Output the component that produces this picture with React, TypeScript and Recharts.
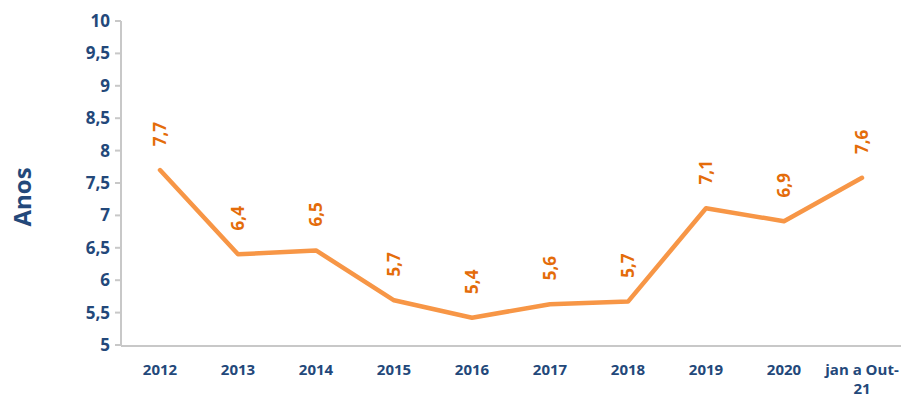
import React from "react";
import { LineChart, Line, XAxis, YAxis, LabelList } from "recharts";

const years = ["2012", "2013", "2014", "2015", "2016", "2017", "2018", "2019", "2020", "jan a Out-21"];
const anos = [7.7, 6.4, 6.46, 5.69, 5.42, 5.63, 5.67, 7.11, 6.91, 7.58];
const yTicks = [5, 5.5, 6, 6.5, 7, 7.5, 8, 8.5, 9, 9.5, 10];
const edgeTicks = [0, 1, 2, 3, 4, 5, 6, 7, 8, 9, 10];

const data = years.map((year, i) => ({ year, anos: anos[i] }));

const NAVY = "#23487A";
const ORANGE_TEXT = "#E46C0A";
const LINE = "#F79646";
const AXIS = "#C8C8C8";
const FONT = "'Open Sans', sans-serif";

const comma = (v: number) => String(v).replace(".", ",");

const XTick = (props: any) => {
  const { x, y, payload } = props;
  const m = String(payload.value).match(/^(.*-)(\d+)$/);
  const lines = m ? [m[1], m[2]] : [payload.value];
  return (
    <text x={x} y={y + 22} textAnchor="middle" fill={NAVY} fontFamily={FONT} fontWeight="bold" fontSize={15}>
      {lines.map((l: string, i: number) => (
        <tspan key={i} x={x} dy={i === 0 ? 0 : 19}>
          {l}
        </tspan>
      ))}
    </text>
  );
};

const PointLabel = (props: any) => {
  const { x, y, value } = props;
  const cy = y - 36;
  return (
    <text
      x={x}
      y={cy}
      transform={`rotate(-90, ${x}, ${cy})`}
      textAnchor="middle"
      dominantBaseline="central"
      fill={ORANGE_TEXT}
      fontFamily={FONT}
      fontWeight="bold"
      fontSize={17}
    >
      {Number(value).toFixed(1).replace(".", ",")}
    </text>
  );
};

const AxisTitle = (props: any) => {
  const { viewBox } = props;
  const cx = 21;
  const cy = viewBox.y + viewBox.height / 2 + 14;
  return (
    <text
      x={cx}
      y={cy}
      transform={`rotate(-90, ${cx}, ${cy})`}
      textAnchor="middle"
      dominantBaseline="central"
      fill={NAVY}
      fontFamily={FONT}
      fontWeight="bold"
      fontSize={24}
    >
      Anos
    </text>
  );
};

export default function App() {
  return (
    <div style={{ position: "absolute", left: 0, top: 0, background: "#fff" }}>
      <LineChart width={906} height={400} data={data} margin={{ top: 21, right: 5, bottom: 6, left: 0 }}>
        <XAxis
          dataKey="year"
          scale="band"
          axisLine={false}
          tickLine={false}
          interval={0}
          height={1}
          tick={<XTick />}
        />
        <XAxis
          xAxisId="edges"
          type="number"
          domain={[0, 10]}
          ticks={edgeTicks}
          tick={false}
          height={48}
          tickSize={6}
          stroke={AXIS}
          strokeWidth={2}
        />
        <YAxis
          domain={[5, 10]}
          ticks={yTicks}
          width={121}
          interval={0}
          tickFormatter={comma}
          tickSize={6}
          tickMargin={5}
          stroke={AXIS}
          strokeWidth={2}
          tick={{ fill: NAVY, fontFamily: FONT, fontWeight: "bold", fontSize: 17 }}
          label={<AxisTitle />}
        />
        <Line
          dataKey="anos"
          stroke={LINE}
          strokeWidth={4.5}
          strokeLinecap="round"
          strokeLinejoin="round"
          dot={false}
          activeDot={false}
          isAnimationActive={false}
        >
          <LabelList dataKey="anos" content={<PointLabel />} />
        </Line>
      </LineChart>
    </div>
  );
}
